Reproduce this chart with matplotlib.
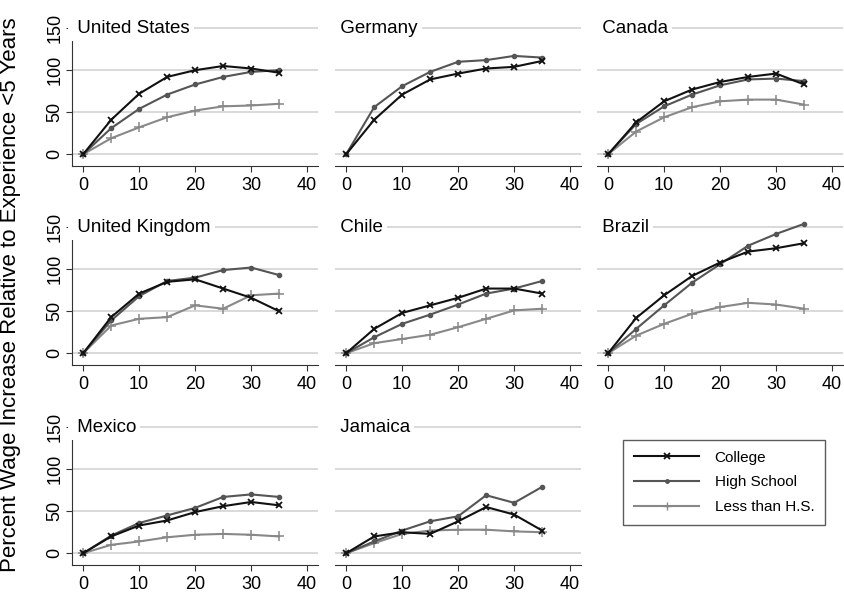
import matplotlib
matplotlib.use("Agg")
import matplotlib.pyplot as plt
from matplotlib.lines import Line2D

plt.rcParams['font.family'] = ['Liberation Sans', 'DejaVu Sans']

experience = [0, 5, 10, 15, 20, 25, 30, 35]
countries = ["United States", "Germany", "Canada",
             "United Kingdom", "Chile", "Brazil",
             "Mexico", "Jamaica"]

college = {
    "United States": [0, 41, 72, 92, 100, 105, 102, 97],
    "Germany": [0, 41, 71, 89, 96, 102, 104, 111],
    "Canada": [0, 38, 63, 77, 86, 92, 96, 83],
    "United Kingdom": [0, 43, 71, 85, 88, 77, 66, 50],
    "Chile": [0, 29, 48, 57, 66, 77, 77, 71],
    "Brazil": [0, 42, 69, 92, 108, 121, 125, 131],
    "Mexico": [0, 20, 33, 39, 49, 56, 61, 57],
    "Jamaica": [0, 20, 25, 23, 38, 55, 46, 27],
}
high_school = {
    "United States": [0, 31, 54, 71, 83, 92, 98, 100],
    "Germany": [0, 56, 81, 98, 110, 112, 117, 115],
    "Canada": [0, 36, 57, 71, 82, 89, 90, 87],
    "United Kingdom": [0, 39, 68, 86, 90, 99, 102, 93],
    "Chile": [0, 19, 35, 46, 58, 71, 77, 86],
    "Brazil": [0, 29, 57, 84, 106, 128, 142, 154],
    "Mexico": [0, 21, 36, 45, 54, 67, 70, 67],
    "Jamaica": [0, 14, 27, 38, 44, 69, 60, 79],
}
less_hs = {
    "United States": [0, 19, 32, 44, 52, 57, 58, 60],
    "Germany": None,
    "Canada": [0, 27, 44, 56, 63, 65, 65, 59],
    "United Kingdom": [0, 33, 41, 43, 57, 53, 69, 71],
    "Chile": [0, 12, 17, 22, 31, 41, 51, 53],
    "Brazil": [0, 21, 35, 47, 55, 60, 58, 53],
    "Mexico": [0, 10, 14, 19, 22, 23, 22, 20],
    "Jamaica": [0, 12, 23, 27, 28, 28, 26, 25],
}

col_c, hs_c, lhs_c = "#111111", "#555555", "#888888"

fig = plt.figure(figsize=(8.44, 5.92), dpi=100)
lefts = [0.0853, 0.3969, 0.7073]
bottoms = [0.7196, 0.3834, 0.0456]
w, h = 0.2919, 0.247

for i, name in enumerate(countries):
    r, c = divmod(i, 3)
    ax = fig.add_axes([lefts[c], bottoms[r], w, h])
    ax.set_xlim(-2, 42)
    ax.set_ylim(-14, 160)
    ax.set_yticks([0, 50, 100, 150])
    ax.set_xticks([0, 10, 20, 30, 40])
    ax.grid(axis='y', color='#d0d0d0', linewidth=1.1)
    ax.set_axisbelow(True)
    for s in ['top', 'right']:
        ax.spines[s].set_visible(False)
    ax.spines['bottom'].set_color('#333333')
    ax.spines['left'].set_color('#333333')
    ax.tick_params(axis='both', labelsize=13, color='#333333', length=4)
    ax.tick_params(axis='x', pad=4)
    ax.tick_params(axis='y', pad=2)
    if c == 0:
        for lab in ax.get_yticklabels():
            lab.set_rotation(90)
            lab.set_va('center')
    else:
        ax.spines['left'].set_visible(False)
        ax.tick_params(axis='y', left=False, labelleft=False)

    ax.plot(experience, college[name], color=col_c, lw=1.5, marker='x',
            ms=5, mew=1.3, zorder=5)
    ax.plot(experience, high_school[name], color=hs_c, lw=1.5, marker='o',
            ms=3, zorder=4)
    if less_hs[name] is not None:
        ax.plot(experience, less_hs[name], color=lhs_c, lw=1.5, marker='+',
                ms=7, mew=1.1, zorder=3)

    ax.text(0.0, 150, " " + name, transform=ax.get_yaxis_transform(),
            fontsize=13.5, va='center', ha='left', zorder=6, clip_on=False,
            bbox=dict(facecolor='white', edgecolor='none', pad=3))

fig.text(0.013, 0.503, "Percent Wage Increase Relative to Experience <5 Years",
         rotation=90, va='center', ha='center', fontsize=16)

handles = [
    Line2D([], [], color=col_c, lw=1.5, marker='x', ms=4, mew=1.3),
    Line2D([], [], color=hs_c, lw=1.5, marker='o', ms=2.5),
    Line2D([], [], color=lhs_c, lw=1.5, marker='+', ms=6, mew=1.0),
]
fig.legend(handles, ["College", "High School", "Less than H.S."],
           loc='upper left', bbox_to_anchor=(623 / 844, 1 - 440 / 592),
           frameon=True, fancybox=False, edgecolor='#333333', fontsize=11,
           handlelength=4.3, borderpad=0.7, labelspacing=0.7,
           handletextpad=1.0, borderaxespad=0)

fig.savefig("out.png", dpi=100)
